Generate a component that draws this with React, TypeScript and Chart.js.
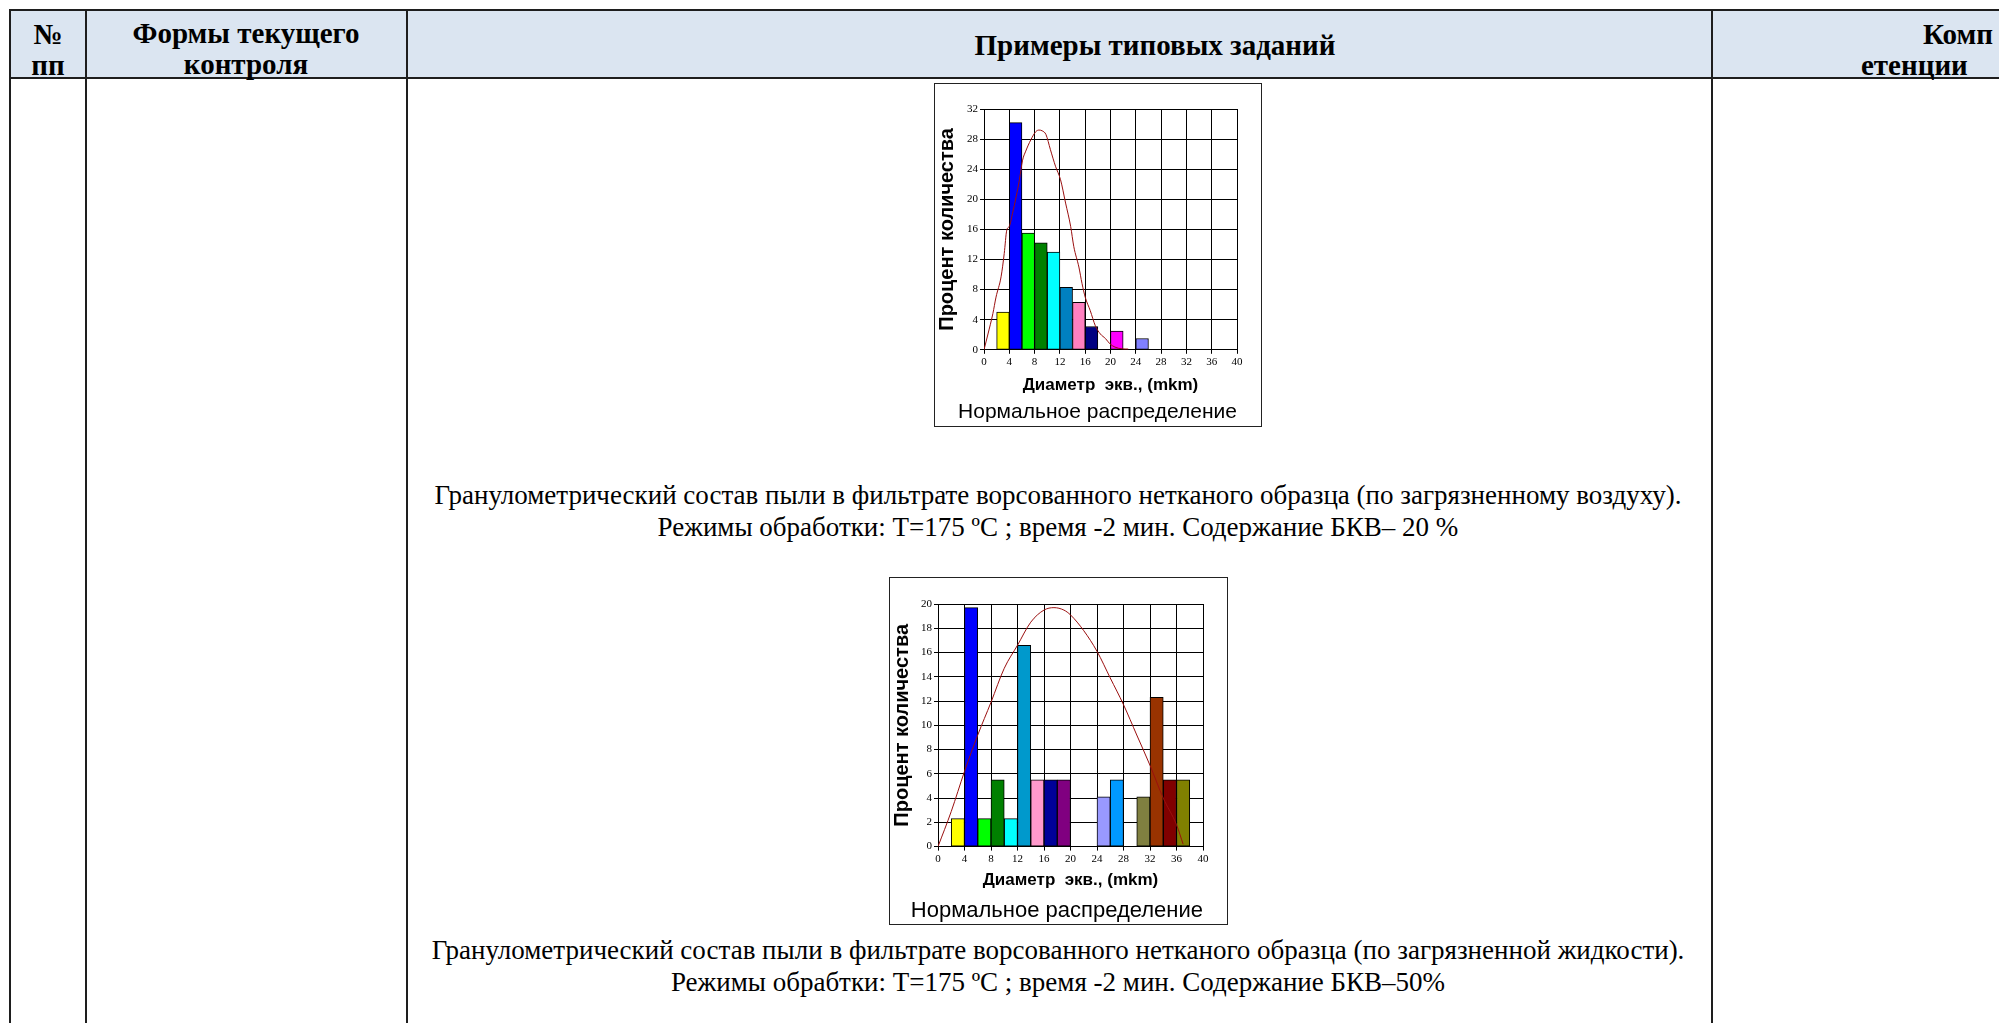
import React, { useEffect, useRef } from 'react';
import { Chart, registerables } from 'chart.js';

Chart.register(...registerables);

// ---------- Chart 1 data (по загрязненному воздуху) ----------
const bins1 = [2, 4, 6, 8, 10, 12, 14, 16, 20, 24]; // bin starts, mkm (bin width 2)
const values1 = [5, 30.2, 15.5, 14.2, 13, 8.3, 6.3, 3.1, 2.5, 1.5];
const colors1 = ['#ffff00', '#0000ff', '#00ff00', '#008000', '#00ffff', '#0080c0', '#ff80c0', '#000080', '#ff00ff', '#8080ff'];
const curveX1 = [0, 0.63, 1.4, 1.9, 2.7, 3.2, 3.6, 4.0, 4.5, 5.1, 5.6, 6.1, 6.6, 7.4, 8.2, 8.7, 9.2, 9.8, 10.5, 11.3, 12.1, 12.9, 13.7, 14.2, 15.0, 15.5, 16.0, 16.8, 17.6, 18.4, 19.2, 19.9, 20.7, 21.8, 22.8];
const curveY1 = [0, 2.1, 4.8, 7.0, 9.7, 12.8, 15.9, 16.4, 18.1, 20.4, 22.6, 25.2, 26.4, 27.9, 29.0, 29.2, 29.1, 28.6, 26.6, 24.4, 22.6, 19.5, 16.4, 13.7, 11.0, 8.8, 7.0, 5.2, 3.2, 2.1, 1.5, 0.8, 0.36, 0.13, 0.1];

// ---------- Chart 2 data (по загрязненной жидкости) ----------
const bins2 = [2, 4, 6, 8, 10, 12, 14, 16, 18, 24, 26, 30, 32, 34, 36];
const values2 = [2.3, 19.7, 2.3, 5.5, 2.3, 16.6, 5.5, 5.5, 5.5, 4.1, 5.5, 4.1, 12.3, 5.5, 5.5];
const colors2 = ['#ffff00', '#0000ff', '#00ff00', '#008000', '#00ffff', '#0099cc', '#ff99cc', '#000099', '#800080', '#9999ff', '#0099ff', '#808040', '#993300', '#800000', '#808000'];
const curveX2 = [0, 2, 4, 6, 8, 10, 12, 14, 16, 17.5, 19, 20, 22, 24, 26, 28, 30, 32, 34, 36, 37];
const curveY2 = [0, 2.9, 6.2, 9.2, 11.9, 14.7, 16.6, 18.5, 19.5, 19.7, 19.5, 19.1, 17.8, 16.1, 13.9, 11.7, 9.2, 6.7, 4.0, 1.8, 0.2];

const xMin = 0;
const xMax = 40;
const xStep = 4;
const yMax1 = 32;
const yStep1 = 4;
const yMax2 = 20;
const yStep2 = 2;

const yTitle = 'Процент количества';
const xTitle = 'Диаметр  экв., (mkm)';
const chartTitle = 'Нормальное распределение';

const caption1 = [
  'Гранулометрический состав пыли в фильтрате ворсованного нетканого образца (по загрязненному воздуху).',
  'Режимы обработки: T=175 ºC ; время -2 мин. Содержание БКВ– 20 %',
];
const caption2 = [
  'Гранулометрический состав пыли в фильтрате ворсованного нетканого образца (по загрязненной жидкости).',
  'Режимы обрабтки: T=175 ºC ; время -2 мин. Содержание БКВ–50%',
];

type HistProps = {
  bins: number[];
  values: number[];
  colors: string[];
  curveX: number[];
  curveY: number[];
  yMax: number;
  yStep: number;
  width: number;
  height: number;
  yAxisWidth: number;
  yTitlePad: number;
  xAxisHeight: number;
  xTitlePad: number;
  padTop: number;
  padRight: number;
  titleSize: number;
  titlePadBottom: number;
};

function HistChart(p: HistProps) {
  const ref = useRef<HTMLCanvasElement>(null);
  useEffect(() => {
    const tickFont = { family: 'Liberation Serif', size: 11 };
    const chart = new Chart(ref.current as HTMLCanvasElement, {
      type: 'bar',
      data: {
        datasets: [
          {
            type: 'line',
            data: p.curveX.map((x, i) => ({ x, y: p.curveY[i] })),
            borderColor: '#9a0f0f',
            borderWidth: 1,
            pointRadius: 0,
            cubicInterpolationMode: 'monotone',
            fill: false,
            order: 0,
          } as any,
          {
            type: 'bar',
            data: p.bins.map((b, i) => ({ x: b + 1, y: p.values[i] })),
            backgroundColor: p.colors,
            borderColor: '#000',
            borderWidth: 1,
            borderSkipped: false,
            barPercentage: 1,
            categoryPercentage: 1,
            order: 1,
          } as any,
        ],
      },
      options: {
        responsive: false,
        animation: false,
        events: [],
        layout: { padding: { top: p.padTop, right: p.padRight, left: 0, bottom: 0 } },
        plugins: {
          legend: { display: false },
          tooltip: { enabled: false },
          title: {
            display: true,
            position: 'bottom',
            align: 'end',
            text: chartTitle,
            color: '#000',
            font: { family: 'Liberation Sans', size: p.titleSize, weight: 'normal' },
            padding: { top: 0, bottom: p.titlePadBottom },
          },
        },
        scales: {
          x: {
            type: 'linear',
            min: xMin,
            max: xMax,
            offset: false,
            ticks: { stepSize: xStep, font: tickFont, color: '#000', padding: 2, maxRotation: 0, autoSkip: false },
            grid: { color: '#000', lineWidth: 1, tickLength: 4, tickColor: '#000', offset: false },
            border: { color: '#000', width: 1 },
            title: {
              display: true,
              text: xTitle,
              color: '#000',
              font: { family: 'Liberation Sans', size: 17, weight: 'bold' },
              padding: { top: 0, bottom: p.xTitlePad },
            },
            afterFit: (s: any) => {
              s.height = p.xAxisHeight;
            },
          },
          y: {
            type: 'linear',
            min: 0,
            max: p.yMax,
            ticks: { stepSize: p.yStep, font: tickFont, color: '#000', padding: 2 },
            grid: { color: '#000', lineWidth: 1, tickLength: 4, tickColor: '#000' },
            border: { color: '#000', width: 1 },
            title: {
              display: true,
              text: yTitle,
              color: '#000',
              font: { family: 'Liberation Sans', size: 20, weight: 'bold' },
              padding: { top: p.yTitlePad, bottom: 0 },
            },
            afterFit: (s: any) => {
              s.width = p.yAxisWidth;
            },
          },
        },
      } as any,
    });
    return () => chart.destroy();
  }, []);
  return <canvas ref={ref} width={p.width} height={p.height} style={{ display: 'block' }} />;
}

const abs = (l: number, t: number, w: number, h: number, bg: string): React.CSSProperties => ({
  position: 'absolute',
  left: l,
  top: t,
  width: w,
  height: h,
  background: bg,
});

const LINE = '#1e1e1e';

const headText: React.CSSProperties = {
  position: 'absolute',
  fontFamily: '"Liberation Serif", serif',
  fontWeight: 'bold',
  fontSize: 29,
  lineHeight: '31px',
  color: '#000',
  whiteSpace: 'nowrap',
};

const capText: React.CSSProperties = {
  position: 'absolute',
  fontFamily: '"Liberation Serif", serif',
  fontSize: 27,
  lineHeight: '32px',
  color: '#000',
  whiteSpace: 'nowrap',
  textAlign: 'center',
  left: 1058,
  transform: 'translateX(-50%)',
};

export default function App() {
  return (
    <div style={{ position: 'absolute', left: 0, top: 0, width: 1999, height: 1023, overflow: 'hidden', background: '#fff' }}>
      {/* header background */}
      <div style={abs(11, 11, 1988, 66, '#dbe5f1')} />
      {/* table lines */}
      <div style={abs(9, 9, 1990, 2, LINE)} />
      <div style={abs(9, 77, 1990, 2, LINE)} />
      <div style={abs(9, 9, 2, 1014, LINE)} />
      <div style={abs(85, 9, 2, 1014, LINE)} />
      <div style={abs(406, 9, 2, 1014, LINE)} />
      <div style={abs(1711, 9, 2, 1014, LINE)} />

      {/* header texts */}
      <div style={{ ...headText, left: 48, top: 19, transform: 'translateX(-50%)', textAlign: 'center' }}>
        №<br />пп
      </div>
      <div style={{ ...headText, left: 246, top: 18, transform: 'translateX(-50%)', textAlign: 'center' }}>
        Формы текущего<br />контроля
      </div>
      <div style={{ ...headText, left: 1155, top: 30, transform: 'translateX(-50%)' }}>Примеры типовых заданий</div>
      <div style={{ ...headText, left: 1923, top: 19 }}>Комп</div>
      <div style={{ ...headText, left: 1861, top: 50 }}>етенции</div>

      {/* chart 1 */}
      <div style={{ position: 'absolute', left: 934, top: 83, width: 328, height: 344, border: '1px solid #222', boxSizing: 'border-box', background: '#fff' }}>
        <HistChart
          bins={bins1}
          values={values1}
          colors={colors1}
          curveX={curveX1}
          curveY={curveY1}
          yMax={yMax1}
          yStep={yStep1}
          width={326}
          height={342}
          yAxisWidth={49}
          yTitlePad={0}
          xAxisHeight={50}
          xTitlePad={4}
          padTop={25}
          padRight={24}
          titleSize={21}
          titlePadBottom={1}
        />
      </div>

      <div style={{ ...capText, top: 479 }}>
        {caption1[0]}
        <br />
        {caption1[1]}
      </div>

      {/* chart 2 */}
      <div style={{ position: 'absolute', left: 889, top: 577, width: 339, height: 348, border: '1px solid #222', boxSizing: 'border-box', background: '#fff' }}>
        <HistChart
          bins={bins2}
          values={values2}
          colors={colors2}
          curveX={curveX2}
          curveY={curveY2}
          yMax={yMax2}
          yStep={yStep2}
          width={337}
          height={346}
          yAxisWidth={48}
          yTitlePad={0}
          xAxisHeight={51}
          xTitlePad={7}
          padTop={26}
          padRight={24}
          titleSize={22}
          titlePadBottom={0}
        />
      </div>

      <div style={{ ...capText, top: 934 }}>
        {caption2[0]}
        <br />
        {caption2[1]}
      </div>
    </div>
  );
}
